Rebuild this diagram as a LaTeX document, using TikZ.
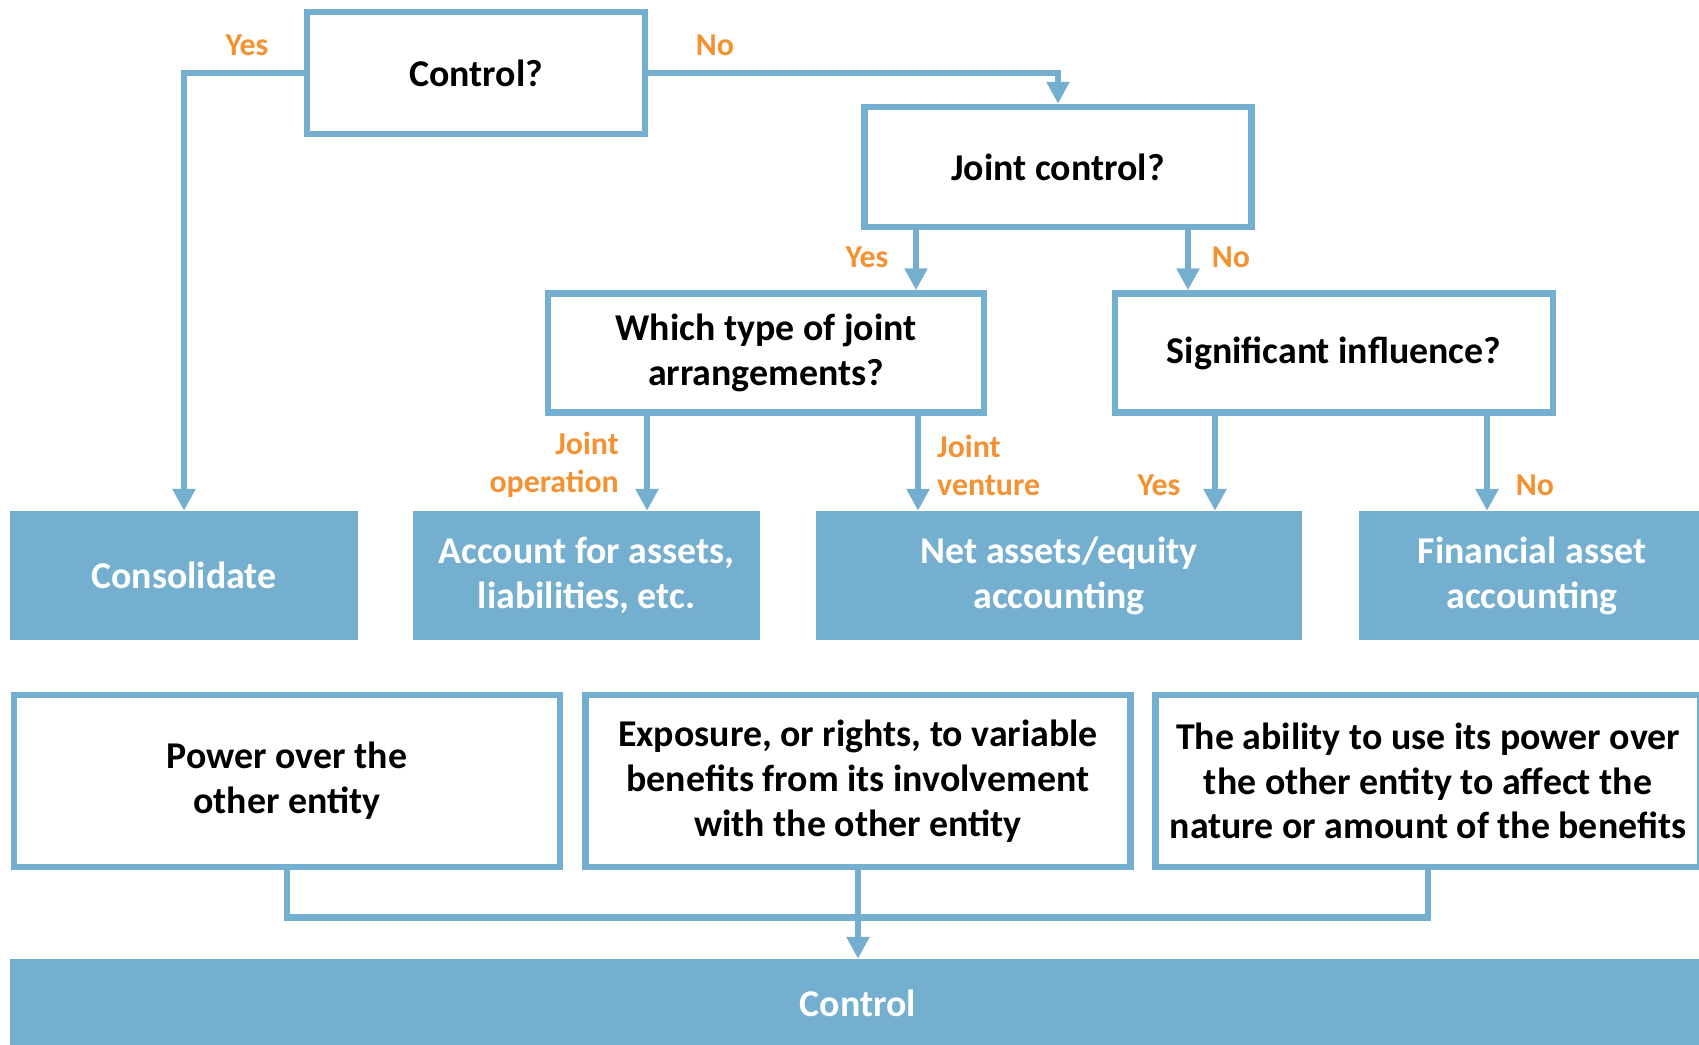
\documentclass[tikz,border=0pt]{standalone}
\usepackage{fontspec}
\setmainfont{Carlito}
\usetikzlibrary{arrows.meta}
\definecolor{boxblue}{RGB}{116,175,207}
\definecolor{ansorange}{RGB}{244,145,50}
\tikzset{
  question/.style={draw=boxblue,line width=6.5bp,fill=white,align=center,inner sep=0pt,
    font=\fontsize{38}{45}\selectfont\bfseries},
  outcome/.style={fill=boxblue,text=white,align=center,inner sep=0pt,
    font=\fontsize{38}{45}\selectfont\bfseries},
  answer/.style={text=ansorange,inner sep=0pt,font=\fontsize{32}{38}\selectfont\bfseries},
  flow/.style={draw=boxblue,line width=6.5bp},
}
\begin{document}
\begin{tikzpicture}[x=1bp,y=-1bp,>={Triangle[width=22bp,length=22bp]}]
  \useasboundingbox (0,0) rectangle (1699,1044);
  % questions
  \node[question,minimum width=338bp,minimum height=122bp] (ctrlq) at (476,73) {Control?};
  \node[question,minimum width=387bp,minimum height=120bp] (jointq) at (1058,167) {Joint control?};
  \node[question,minimum width=436bp,minimum height=119bp] (typeq) at (766,353) {Which type of joint\\arrangements?};
  \node[question,minimum width=438bp,minimum height=119bp] (sigq) at (1334,353) {Significant influence?};
  % outcomes
  \node[outcome,minimum width=348bp,minimum height=129bp] (consol) at (184,575.5) {Consolidate};
  \node[outcome,minimum width=347bp,minimum height=129bp] (acct) at (586.5,575.5) {Account for assets,\\liabilities, etc.};
  \node[outcome,minimum width=486bp,minimum height=129bp] (netas) at (1059,575.5) {Net assets/equity\\accounting};
  \node[outcome,minimum width=346bp,minimum height=129bp] (finas) at (1532,575.5) {Financial asset\\accounting};
  % definition of control
  \node[question,minimum width=546bp,minimum height=172bp] (power) at (287,781) {Power over the\\other entity};
  \node[question,minimum width=545bp,minimum height=172bp] (expo) at (858,781) {Exposure, or rights, to variable\\benefits from its involvement\\with the other entity};
  \node[question,minimum width=545bp,minimum height=172bp] (abil) at (1428,781) {The ability to use its power over\\the other entity to affect the\\nature or amount of the benefits};
  \node[outcome,minimum width=1696bp,minimum height=88bp] (ctrlbar) at (858,1003) {Control};
  % connectors
  \draw[flow,->] (ctrlq.west) -| (consol.north);
  \draw[flow,->] (ctrlq.east) -| (jointq.north);
  \draw[flow,->] ([xshift=-142bp]jointq.south) -- ([xshift=-142bp]jointq.south |- typeq.north);
  \draw[flow,->] ([xshift=130bp]jointq.south) -- ([xshift=130bp]jointq.south |- sigq.north);
  \draw[flow,->] ([xshift=-119bp]typeq.south) -- ([xshift=-119bp]typeq.south |- acct.north);
  \draw[flow,->] ([xshift=152bp]typeq.south) -- ([xshift=152bp]typeq.south |- netas.north);
  \draw[flow,->] ([xshift=-119bp]sigq.south) -- ([xshift=-119bp]sigq.south |- netas.north);
  \draw[flow,->] ([xshift=153bp]sigq.south) -- ([xshift=153bp]sigq.south |- finas.north);
  \draw[flow] (power.south) -- ++(0,47) -| (abil.south);
  \draw[flow,->] (expo.south) -- (ctrlbar.north);
  % answers
  \node[answer] (ctrlyes) at (247,45) {Yes};
  \node[answer] (ctrlno) at (715,45) {No};
  \node[answer] (jointyes) at (867,257) {Yes};
  \node[answer] (jointno) at (1231,257) {No};
  \node[answer,align=right,anchor=east] (jop) at (619,465) {Joint\\operation};
  \node[answer,align=left,anchor=west] (jven) at (937,465) {Joint\\venture};
  \node[answer] (sigyes) at (1159,485) {Yes};
  \node[answer] (signo) at (1535,485) {No};
\end{tikzpicture}
\end{document}
